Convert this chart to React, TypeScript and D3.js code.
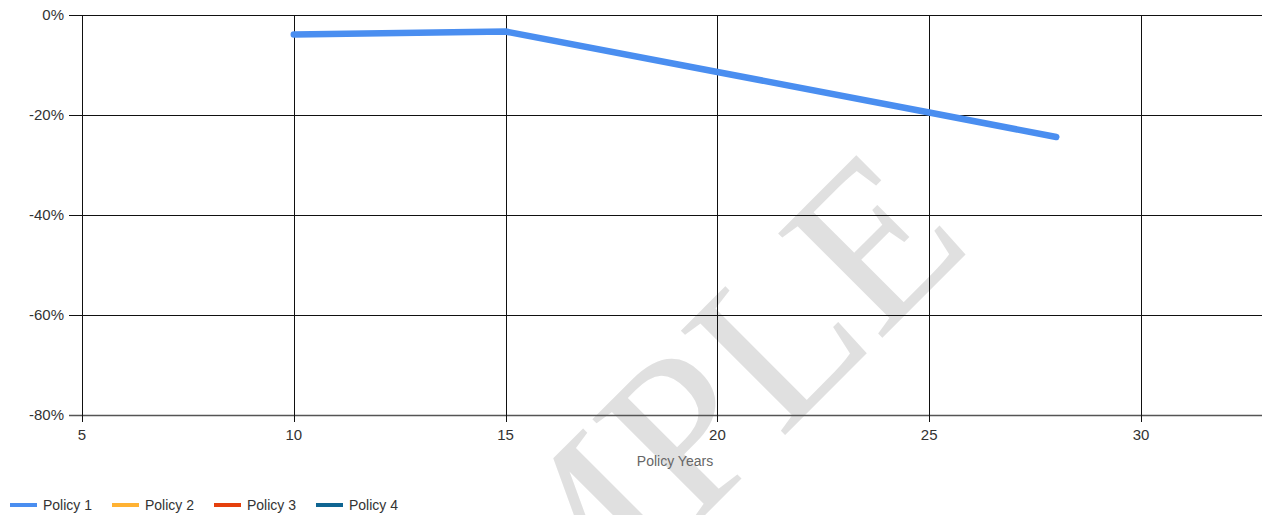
import React from "react";
import * as d3 from "d3";

const years = [10, 15, 20, 25, 28];
const policy1 = [-3.9, -3.3, -11.4, -19.5, -24.4];
const xTicks = [5, 10, 15, 20, 25, 30];
const yTicks = [0, -20, -40, -60, -80];
const legendNames = ["Policy 1", "Policy 2", "Policy 3", "Policy 4"];
const legendColors = ["#4a8ef0", "#ffb233", "#e5400d", "#0f6592"];

const W = 1262;
const H = 515;
const left = 82;
const top = 15;
const bottom = 415;

export default function App() {
  const x = d3.scaleLinear().domain([5, 33]).range([left, left + 28 * 42.36]);
  const y = d3.scaleLinear().domain([0, -80]).range([top, bottom]);
  const line = d3
    .line<number>()
    .x((_, i) => x(years[i]))
    .y((d) => y(d));
  const font = "Arial, 'Liberation Sans', sans-serif";
  return (
    <svg
      width={W}
      height={H}
      style={{ position: "absolute", left: 0, top: 0, background: "#fff" }}
    >
      <text
        transform="translate(661,559) rotate(-45)"
        textAnchor="middle"
        fontFamily="'Liberation Serif', 'Times New Roman', serif"
        fontSize={225}
        fill="#e0e0e0"
      >
        SAMPLE
      </text>
      {yTicks.map((t) => (
        <g key={"y" + t}>
          <line
            x1={69}
            x2={W}
            y1={Math.round(y(t)) + 0.5}
            y2={Math.round(y(t)) + 0.5}
            stroke={t === -80 ? "#555" : "#111"}
            strokeWidth={t === -80 ? 1.5 : 1}
          />
          <text
            x={64}
            y={y(t)}
            dy="0.35em"
            textAnchor="end"
            fontFamily={font}
            fontSize={15}
            fill="#333"
          >
            {t + "%"}
          </text>
        </g>
      ))}
      {xTicks.map((t) => (
        <g key={"x" + t}>
          <line
            x1={Math.round(x(t)) + 0.5}
            x2={Math.round(x(t)) + 0.5}
            y1={top}
            y2={bottom + 7}
            stroke="#111"
            strokeWidth={1}
          />
          <text
            x={x(t)}
            y={440}
            textAnchor="middle"
            fontFamily={font}
            fontSize={15}
            fill="#333"
          >
            {t}
          </text>
        </g>
      ))}
      <text
        x={675}
        y={466}
        textAnchor="middle"
        fontFamily={font}
        fontSize={14}
        fill="#666"
      >
        Policy Years
      </text>
      <path
        d={line(policy1) || ""}
        fill="none"
        stroke={legendColors[0]}
        strokeWidth={6.5}
        strokeLinecap="round"
        strokeLinejoin="round"
      />
      {legendNames.map((n, i) => (
        <g key={n} transform={`translate(${10 + i * 102},505)`}>
          <line x1={0} x2={27} y1={0} y2={0} stroke={legendColors[i]} strokeWidth={4} />
          <text x={33} y={0} dy="0.35em" fontFamily={font} fontSize={14} fill="#333">
            {n}
          </text>
        </g>
      ))}
    </svg>
  );
}
